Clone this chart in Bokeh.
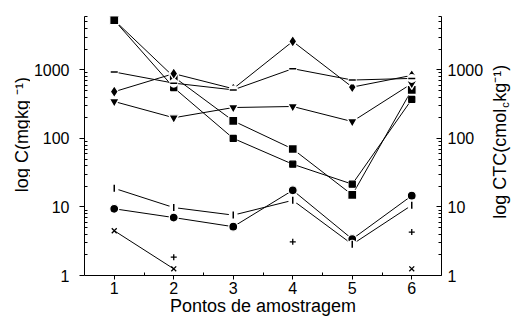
import math
from bokeh.plotting import figure
from bokeh.layouts import row
from bokeh.models import Range1d, LogAxis, FixedTicker, PrintfTickFormatter
from bokeh.core.properties import value
from bokeh.embed import file_html
from bokeh.resources import INLINE

nan = float("nan")

# ---- data ----
points = [1, 2, 3, 4, 5, 6]
square_vals = [5300, 790, 180, 70, 15, 510]
asterisk_vals = [5300, 550, 100, 42, 21.5, 370]
diamond_vals = [480, 880, 530, 2600, 560, 830]
hdash_vals = [930, 640, 510, 1040, 710, 750]
triangle_vals = [345, 200, 282, 292, 176, 630]
circle_vals = [9.4, 7.0, 5.15, 17.5, 3.4, 14.6]
vdash_vals = [18.7, 9.8, 7.6, 12.5, 2.85, 10.6]
cross_vals = [4.5, 1.25, nan, nan, nan, 1.25]
plus_vals = [nan, 1.85, nan, 3.1, nan, 4.3]

x_ticks = [1, 2, 3, 4, 5, 6]
x_minor_ticks = [1.5, 2.5, 3.5, 4.5, 5.5]
y_ticks = [1, 10, 100, 1000]
y_minor_ticks = [m * d for d in (1, 10, 100) for m in range(2, 10)] + [2000, 3000, 4000, 5000, 6000]

x_label = "Pontos de amostragem"
left_label = "log C(mgkg \u207b\u00b9)"
right_label_parts = ["log CTC(cmol", "c", "kg\u207b\u00b9)"]

FONT = "Liberation Sans"
W, H = 516, 320
WL, WR = 30, 30
WM = W - WL - WR

# ---- main plot ----
p = figure(width=WM, height=H, x_range=Range1d(0.5, 6.5), y_range=Range1d(1, 6000),
           y_axis_type="log", output_backend="svg", toolbar_location=None,
           min_border_left=82 - WL, min_border_right=(WL + WM) - 442,
           min_border_top=16, min_border_bottom=H - 275)
p.outline_line_color = None
p.xgrid.visible = False
p.ygrid.visible = False

raxis = LogAxis()
p.add_layout(raxis, "right")

p.xaxis.ticker = FixedTicker(ticks=x_ticks, minor_ticks=x_minor_ticks)
for ax in (p.yaxis[0], raxis):
    ax.ticker = FixedTicker(ticks=y_ticks, minor_ticks=y_minor_ticks)
    ax.formatter = PrintfTickFormatter(format="%d")

for ax in (p.xaxis[0], p.yaxis[0], raxis):
    ax.axis_line_color = "black"
    ax.axis_line_width = 1
    ax.major_tick_line_color = "black"
    ax.minor_tick_line_color = "black"
    ax.major_tick_out = 5
    ax.major_tick_in = 0
    ax.minor_tick_out = 0
    ax.minor_tick_in = 3
    ax.major_label_text_font = FONT
    ax.major_label_text_font_size = "16px"
    ax.major_label_text_color = "black"

p.yaxis[0].major_label_standoff = 10
raxis.major_tick_out = 0
raxis.major_tick_in = 5
raxis.major_label_standoff = 6

xa = p.xaxis[0]
xa.major_tick_out = 4
xa.major_label_standoff = 2
xa.axis_label = x_label
xa.axis_label_text_font = FONT
xa.axis_label_text_font_size = "18px"
xa.axis_label_text_font_style = "normal"
xa.axis_label_text_color = "black"
xa.axis_label_standoff = -1

# lines
for vals in (square_vals, asterisk_vals, diamond_vals, hdash_vals, triangle_vals,
             circle_vals, vdash_vals, cross_vals):
    p.line(points, vals, line_color="black", line_width=1)

# markers
p.scatter(points, asterisk_vals, marker="square", size=8, fill_color="white", line_color=None)
p.scatter(points, asterisk_vals, marker="square_x", size=6, fill_color="black", line_color="black", line_width=1.3)
p.scatter(points, square_vals, marker="square", size=9, fill_color="black", line_color="white", line_width=1.3)
p.scatter(points, diamond_vals, marker="diamond", size=12, fill_color="black", line_color="white", line_width=1.3)
p.scatter(points, triangle_vals, marker="inverted_triangle", size=10, fill_color="black", line_color="white", line_width=1.3)
p.scatter(points, circle_vals, marker="circle", size=9, fill_color="black", line_color="white", line_width=1.3)
p.scatter(points, hdash_vals, marker="circle", size=9, fill_color="white", line_color=None)
p.scatter(points, hdash_vals, marker="dash", size=7, line_color="black", line_width=1.5)
p.scatter(points, vdash_vals, marker="circle", size=9, fill_color="white", line_color=None)
p.scatter(points, vdash_vals, marker="dash", size=7, angle=math.pi / 2, line_color="black", line_width=1.5)
p.scatter(points, cross_vals, marker="x", size=7, line_color="black", line_width=1.3)
p.scatter(points, plus_vals, marker="cross", size=6, line_color="black", line_width=1.3)


# ---- side figures carrying the rotated axis titles ----
def side_fig(w):
    f = figure(width=w, height=H, x_range=Range1d(0, w), y_range=Range1d(0, H),
               output_backend="svg", toolbar_location=None, min_border=0,
               min_border_left=0, min_border_right=0, min_border_top=0, min_border_bottom=0,
               x_axis_location=None, y_axis_location=None)
    f.outline_line_color = None
    f.grid.visible = False
    return f


def vtext(f, x, y, txt, size, dx=0, dy=0):
    # dx, dy: screen-pixel offsets from the anchor (dy < 0 moves up)
    f.text(x=[x], y=[y], text=[txt], angle=math.pi / 2, text_align="left",
           text_baseline="middle", text_font=value(FONT), text_font_size=value(size),
           text_color="black", x_offset=dx, y_offset=dy)


# left title: starts at image y 217, centred on image x 21
lf = side_fig(WL)
vtext(lf, 21, H - 217, left_label, "18px")

# right title: starts at image y 250, centred on image x 499
rf = side_fig(WR)
rx, ry = 499 - (W - WR), H - 250
vtext(rf, rx, ry, right_label_parts[0], "18px")
vtext(rf, rx, ry, right_label_parts[1], "11px", dx=5, dy=-111)
vtext(rf, rx, ry, right_label_parts[2], "18px", dy=-117)

layout = row(lf, p, rf)
open("out.html", "w").write(file_html(layout, INLINE))
